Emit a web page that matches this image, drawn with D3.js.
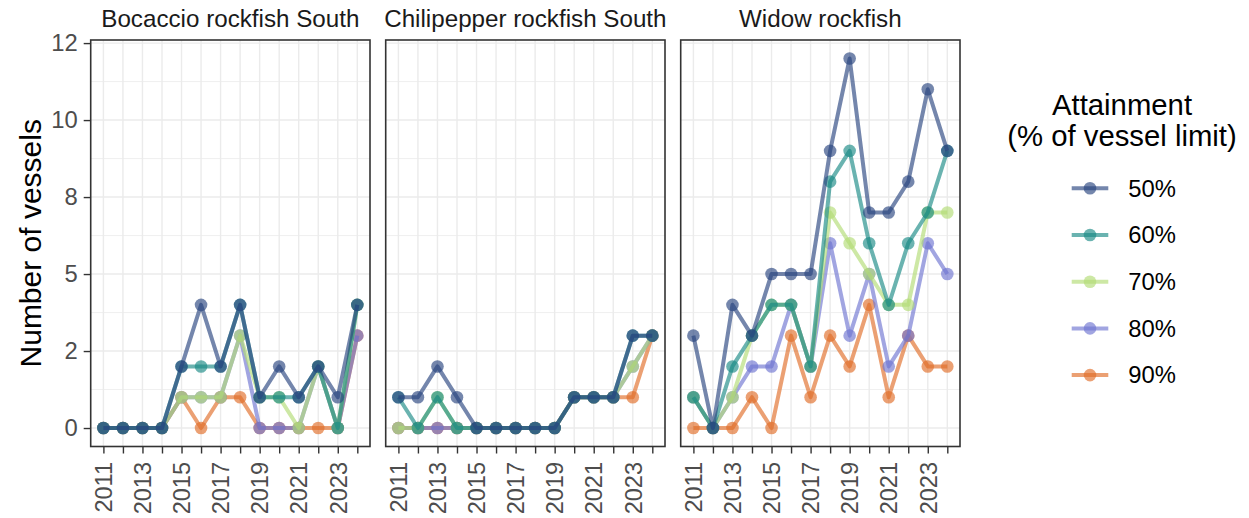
<!DOCTYPE html>
<html>
<head>
<meta charset="utf-8">
<script src="https://cdn.jsdelivr.net/npm/d3@7"></script>
<style>
  body { margin: 0; background: #fff; }
  svg { font-family: "Liberation Sans", Arial, Helvetica, sans-serif; }
</style>
</head>
<body>
<svg id="chart"></svg>
<script>
// --- data ---
const years = [2011, 2012, 2013, 2014, 2015, 2016, 2017, 2018, 2019, 2020, 2021, 2022, 2023, 2024];
const levels = ["50%", "60%", "70%", "80%", "90%"];
const species = ["Bocaccio rockfish South", "Chilipepper rockfish South", "Widow rockfish"];

// one row per attainment level (50% .. 90%)
const bocaccio = [
  [0, 0, 0, 0, 2, 4, 2, 4, 1, 2, 1, 2, 1, 4],
  [0, 0, 0, 0, 2, 2, 2, 4, 1, 1, 1, 2, 0, 4],
  [0, 0, 0, 0, 1, 1, 1, 3, 1, 1, 0, 2, 0, 4],
  [0, 0, 0, 0, 1, 1, 1, 3, 0, 0, 0, 2, 0, 3],
  [0, 0, 0, 0, 1, 0, 1, 1, 0, 0, 0, 0, 0, 3],
];
const chilipepper = [
  [1, 1, 2, 1, 0, 0, 0, 0, 0, 1, 1, 1, 3, 3],
  [1, 0, 1, 0, 0, 0, 0, 0, 0, 1, 1, 1, 3, 3],
  [0, 0, 1, 0, 0, 0, 0, 0, 0, 1, 1, 1, 2, 3],
  [0, 0, 0, 0, 0, 0, 0, 0, 0, 1, 1, 1, 2, 3],
  [0, 0, 0, 0, 0, 0, 0, 0, 0, 1, 1, 1, 1, 3],
];
const widow = [
  [3, 0, 4, 3, 5, 5, 5, 9, 12, 7, 7, 8, 11, 9],
  [1, 0, 2, 3, 4, 4, 2, 8, 9, 6, 4, 6, 7, 9],
  [1, 0, 1, 3, 4, 4, 2, 7, 6, 5, 4, 4, 7, 7],
  [1, 0, 1, 2, 2, 4, 2, 6, 3, 5, 2, 3, 6, 5],
  [0, 0, 0, 1, 0, 3, 1, 3, 2, 4, 1, 3, 2, 2],
];
const panels = [bocaccio, chilipepper, widow];

const yTicks = [0, 2.5, 5, 7.5, 10, 12.5];
const yTickLabels = ["0", "2", "5", "8", "10", "12"];
const yMinor = [1.25, 3.75, 6.25, 8.75, 11.25];
const xTickLabels = ["2011", "", "2013", "", "2015", "", "2017", "", "2019", "", "2021", "", "2023", ""];

// --- layout ---
const width = 1249;
const height = 518;
const panelLeft = 90.7;
const panelW = 279.3;
const panelGap = 15.7;
const panelTop = 40;
const panelH = 406.5;
const palette = ["#2a4580", "#1a8a85", "#b2dc75", "#6e75d1", "#e16d28"];
const alpha = 0.65;

const svg = d3.select("#chart").attr("width", width).attr("height", height);

const x = d3.scaleLinear().domain([2010.35, 2024.65]).range([0, panelW]);
const y = d3.scaleLinear().domain([-0.6, 12.6]).range([panelH, 0]);

const line = d3.line()
  .defined((d) => d.v != null)
  .x((d) => x(d.year))
  .y((d) => y(d.v));

panels.forEach((rows, p) => {
  const g = svg.append("g").attr("transform", `translate(${panelLeft + p * (panelW + panelGap)},${panelTop})`);

  // grid
  g.selectAll(".ymin").data(yMinor).join("line")
    .attr("x1", 0).attr("x2", panelW)
    .attr("y1", (d) => y(d)).attr("y2", (d) => y(d))
    .attr("stroke", "#ebebeb").attr("stroke-width", 0.8);
  g.selectAll(".ymaj").data(yTicks).join("line")
    .attr("x1", 0).attr("x2", panelW)
    .attr("y1", (d) => y(d)).attr("y2", (d) => y(d))
    .attr("stroke", "#ebebeb").attr("stroke-width", 1.4);
  g.selectAll(".xmaj").data(years).join("line")
    .attr("x1", (d) => x(d)).attr("x2", (d) => x(d))
    .attr("y1", 0).attr("y2", panelH)
    .attr("stroke", "#ebebeb").attr("stroke-width", 1.4);

  // series, 90% drawn first so 50% sits on top
  const series = rows.map((vals, i) => ({
    i,
    pts: years.map((year, k) => ({ year, v: vals[k] })),
  })).reverse();

  series.forEach((s) => {
    g.append("path")
      .attr("d", line(s.pts))
      .attr("fill", "none")
      .attr("stroke", palette[s.i])
      .attr("stroke-opacity", alpha)
      .attr("stroke-width", 4)
      .attr("stroke-linejoin", "round");
    g.selectAll(null).data(s.pts.filter((d) => d.v != null)).join("circle")
      .attr("cx", (d) => x(d.year))
      .attr("cy", (d) => y(d.v))
      .attr("r", 6.3)
      .attr("fill", palette[s.i])
      .attr("fill-opacity", alpha);
  });

  // border
  g.append("rect")
    .attr("width", panelW).attr("height", panelH)
    .attr("fill", "none").attr("stroke", "#333").attr("stroke-width", 1.6);

  // strip title
  g.append("text")
    .attr("x", panelW / 2).attr("y", -13.3)
    .attr("text-anchor", "middle")
    .style("font-size", "24.2px").style("fill", "#1a1a1a")
    .text(species[p]);

  // x axis
  const xAxis = g.append("g").attr("transform", `translate(0,${panelH})`)
    .call(d3.axisBottom(x).tickValues(years).tickSize(7).tickPadding(0)
      .tickFormat((d, k) => xTickLabels[k]));
  xAxis.select(".domain").remove();
  xAxis.selectAll("line").attr("stroke", "#333").attr("stroke-width", 1.4);
  xAxis.selectAll("text")
    .attr("transform", "rotate(-90)")
    .attr("x", -15.5).attr("y", 0).attr("dy", "0.35em")
    .attr("text-anchor", "end")
    .style("font-size", "23.5px").style("fill", "#4d4d4d")
    .style("font-family", "'Liberation Sans', Arial, sans-serif");

  if (p === 0) {
    const yAxis = g.append("g")
      .call(d3.axisLeft(y).tickValues(yTicks).tickSize(7).tickPadding(6)
        .tickFormat((d, k) => yTickLabels[k]));
    yAxis.select(".domain").remove();
    yAxis.selectAll("line").attr("stroke", "#333").attr("stroke-width", 1.4);
    yAxis.selectAll("text")
      .style("font-size", "23.8px").style("fill", "#4d4d4d")
      .style("font-family", "'Liberation Sans', Arial, sans-serif");
  }
});

// y axis title
svg.append("text")
  .attr("transform", `translate(41,${panelTop + panelH / 2}) rotate(-90)`)
  .attr("text-anchor", "middle")
  .style("font-size", "30px").style("fill", "#000")
  .text("Number of vessels");

// --- legend ---
const legend = svg.append("g");
legend.selectAll(".title").data(["Attainment", "(% of vessel limit)"]).join("text")
  .attr("x", 1122).attr("y", (d, i) => 115 + i * 31)
  .attr("text-anchor", "middle")
  .style("font-size", "29.3px").style("fill", "#000")
  .text((d) => d);

const keys = legend.selectAll(".key").data(levels).join("g")
  .attr("transform", (d, i) => `translate(1090,${188.3 + i * 46.7})`);
keys.append("line")
  .attr("x1", -18.3).attr("x2", 18.3)
  .attr("stroke", (d, i) => palette[i]).attr("stroke-opacity", alpha).attr("stroke-width", 4);
keys.append("circle")
  .attr("r", 6.3)
  .attr("fill", (d, i) => palette[i]).attr("fill-opacity", alpha);
keys.append("text")
  .attr("x", 38.3).attr("dy", "0.35em")
  .style("font-size", "23.8px").style("fill", "#000")
  .text((d) => d);
</script>
</body>
</html>
